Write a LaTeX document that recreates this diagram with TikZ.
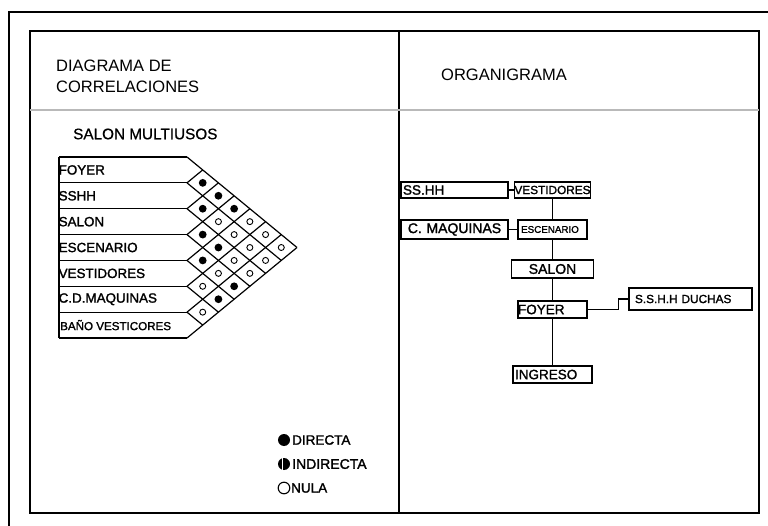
\documentclass[tikz,border=0pt]{standalone}
\usepackage{fontspec}
\setmainfont{Liberation Sans}
\newfontfamily\heavyfont[FakeBold=1.6]{Liberation Sans}
\newfontfamily\midfont[FakeBold=0.8]{Liberation Sans}
\begin{document}
\begin{tikzpicture}[x=1pt,y=-1pt,
  frame/.style={line width=1.6pt},
  mline/.style={line width=1.2pt},
  obox/.style={draw,line width=1.3pt,inner sep=0pt,inner xsep=2pt},
  lbl/.style={inner sep=0pt,anchor=west},
  fdot/.style={fill=black},
  odot/.style={draw=black,line width=0.9pt,fill=white}]
\useasboundingbox (0,0) rectangle (768,526);
% frames
\draw[frame] (9,526) -- (9,12) -- (768,12);
\draw[frame] (30,31) rectangle (759,513);
\draw[frame] (399,31) -- (399,513);
\draw[line width=1.2pt,gray!55] (30,110) -- (759,110);
% titles
\node[lbl,align=left,font=\fontsize{16.5}{21}\selectfont] (t1) at (56,76.5) {DIAGRAMA DE\\CORRELACIONES};
\node[lbl,font=\fontsize{16.5}{20}\selectfont] (t2) at (441,75) {ORGANIGRAMA};
\node[lbl,font=\midfont\fontsize{15.3}{18}\selectfont] (t3) at (73,134) {SALON MULTIUSOS};
% correlation matrix
\def\w{15.714}\def\h{12.93}
\draw[mline] (59,157) -- (59,338);
\foreach \i in {0,...,7}{\draw[mline] (59,157+2*\h*\i) -- (187,157+2*\h*\i);}
\foreach \i in {0,...,6}{\draw[mline] (187,157+2*\h*\i) -- (187+\w*7-\w*\i,157+2*\h*\i+7*\h-\h*\i);}
\foreach \i in {1,...,7}{\draw[mline] (187,157+2*\h*\i) -- (187+\w*\i,157+\h*\i);}
\foreach \a/\b in {0/1,0/2,1/2,0/3,2/3,2/4,3/4,3/6,4/6}{
  \fill[fdot] (187+\b*\w-\a*\w,157+\a*\h+\b*\h+\h) circle (3.9);}
\foreach \a/\b in {1/3,0/4,1/4,0/5,1/5,0/6,2/5,1/6,3/5,2/6,4/5,5/6}{
  \draw[odot] (187+\b*\w-\a*\w,157+\a*\h+\b*\h+\h) circle (3);}
\foreach \t [count=\r from 0] in {FOYER,SSHH,SALON,ESCENARIO,VESTIDORES,C.D.MAQUINAS}{
  \node[lbl,font=\heavyfont\fontsize{13.4}{15}\selectfont] (row\r) at (58.5,157+2*\r*\h+\h) {\t};}
\node[lbl,font=\heavyfont\fontsize{11.6}{14}\selectfont] (row6) at (60,157+13*\h) {BAÑO VESTICORES};
% legend
\fill (284,440) circle (6);
\node[lbl,font=\heavyfont\fontsize{13.5}{15}\selectfont] (ld) at (292,440) {DIRECTA};
\fill (284,464) circle (6);
\draw[white,line width=1pt] (282.3,457.5) -- (282.3,470.5);
\node[lbl,font=\heavyfont\fontsize{14}{15}\selectfont] (li) at (292,464) {INDIRECTA};
\draw[line width=1.1pt] (284,488) circle (5.8);
\node[lbl,font=\heavyfont\fontsize{13.5}{15}\selectfont] (ln) at (291,488) {NULA};
% organigrama
\node[obox,minimum height=16,text width=103,align=left,font=\heavyfont\fontsize{13.5}{15}\selectfont] (ssh) at (454.5,190) {SS.HH};
\node[obox,minimum height=16,minimum width=76,inner xsep=0pt,font=\heavyfont\fontsize{11.8}{13}\selectfont] (vest) at (552.5,190) {VESTIDORES};
\node[obox,minimum height=19,text width=103,align=center,font=\heavyfont\fontsize{14}{15}\selectfont] (cmaq) at (454.5,229.5) {C. MAQUINAS};
\node[obox,minimum height=19,minimum width=69,inner xsep=0pt,font=\heavyfont\fontsize{9.8}{11}\selectfont] (esc) at (552.5,229.5) {\hspace*{-5pt}ESCENARIO};
\node[obox,minimum height=18,text width=78,align=center,font=\heavyfont\fontsize{14}{15}\selectfont] (salon) at (552.5,269) {SALON};
\node[obox,minimum height=17,text width=65,align=left,font=\heavyfont\fontsize{13.5}{15}\selectfont] (foyer) at (552.5,309.5) {\hspace*{-2pt}FOYER};
\node[obox,minimum height=22,text width=119,align=left,font=\heavyfont\fontsize{11.8}{13}\selectfont] (duchas) at (690.5,299) {\hspace*{4pt}S.S.H.H DUCHAS};
\node[obox,minimum height=17,text width=75,align=left,font=\heavyfont\fontsize{13.5}{15}\selectfont] (ingreso) at (552.5,374.5) {INGRESO};
\draw[line width=1.3pt] (ssh.east) -- (vest.west);
\draw[line width=1.3pt] (cmaq.east) -- (esc.west);
\draw[line width=1.3pt] (vest.south) -- (esc.north);
\draw[line width=1.3pt] (esc.south) -- (salon.north);
\draw[line width=1.3pt] (salon.south) -- (foyer.north);
\draw[line width=1.3pt] (foyer.south) -- (ingreso.north);
\draw[line width=1.3pt] (foyer.east) -- ++(31,0) |- (duchas.west);
\end{tikzpicture}
\end{document}
